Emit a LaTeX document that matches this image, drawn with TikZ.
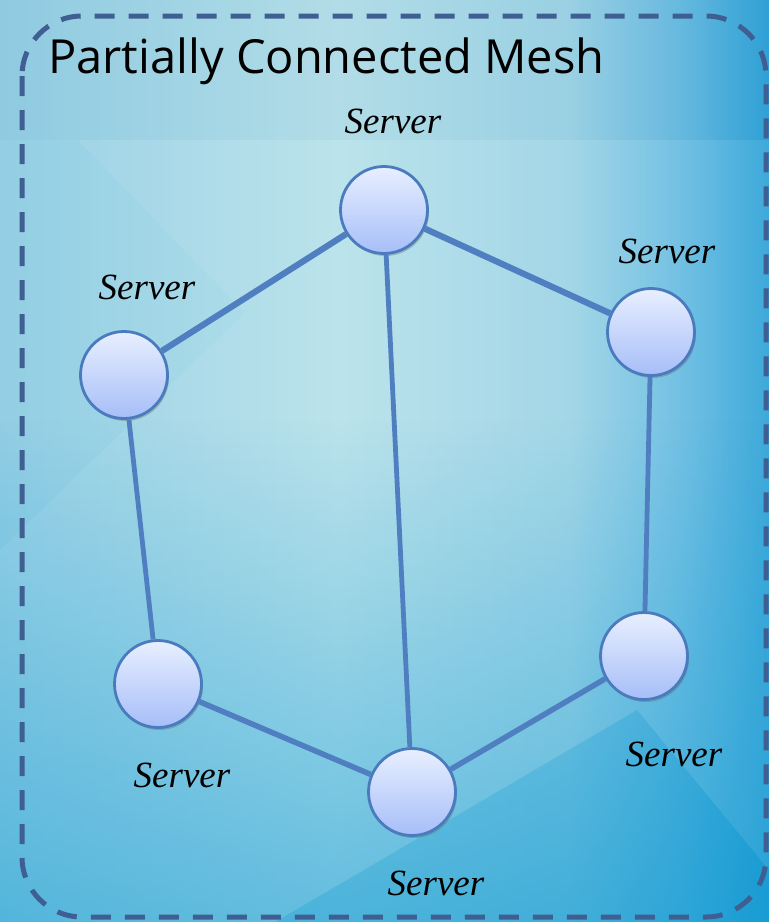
\documentclass[tikz,border=0pt]{standalone}
\usepackage{fontspec}
\setmainfont{Liberation Serif}
\newfontfamily\titlefont{Open Sans}
\usetikzlibrary{shadows,fadings}
\definecolor{bgA}{HTML}{92CEE4}
\definecolor{bgB}{HTML}{B6E1EA}
\definecolor{bgC}{HTML}{9DD4E6}
\definecolor{bgD}{HTML}{6ABDE2}
\definecolor{bgE}{HTML}{2FA3D8}
\definecolor{deepblue}{HTML}{0A98D2}
\definecolor{edgec}{HTML}{4F7FC1}
\definecolor{nodetop}{HTML}{E8EFFF}
\definecolor{nodebot}{HTML}{A6BEF8}
\definecolor{nodeline}{HTML}{4A7BBE}
\definecolor{framec}{HTML}{3F5F92}
\pgfdeclarehorizontalshading{bgshade}{100bp}{color(0bp)=(bgA); color(25bp)=(bgA); color(47bp)=(bgB); color(62bp)=(bgC); color(69bp)=(bgD); color(75bp)=(bgE); color(100bp)=(bgE)}
\tikzfading[name=fadebottom, top color=transparent!100, bottom color=transparent!0]
\tikzset{
  server/.style={circle, minimum size=87pt, inner sep=0pt, line width=2.8pt, draw=nodeline,
    top color=nodetop, bottom color=nodebot,
    drop shadow={opacity=0.35, shadow xshift=1.5pt, shadow yshift=-2.5pt, fill=black!60}},
  lbl/.style={font=\fontsize{37}{40}\selectfont\itshape, anchor=base, inner sep=0pt},
  link/.style={draw=edgec, line width=5.5pt},
  thinlink/.style={draw=edgec, line width=4.8pt},
  thicklink/.style={draw=edgec, line width=6.2pt}
}
\begin{document}
\begin{tikzpicture}[x=1pt,y=-1pt]
\useasboundingbox (0,0) rectangle (769,922);
% background
\shade[shading=bgshade] (0,0) rectangle (769,922);
\fill[deepblue, opacity=0.55, path fading=fadebottom] (0,420) rectangle (769,922);
\fill[white, opacity=0.07] (78,140) -- (769,140) -- (769,870) -- (637,710) -- (275,922) -- (0,922) -- (0,550) -- (245,313) -- cycle;
\fill[deepblue, opacity=0.15] (637,710) -- (769,870) -- (769,922) -- (275,922) -- cycle;
\fill[framec, opacity=0.03] (0,0) rectangle (769,140);
% frame
\draw[framec, line width=5pt, dash pattern=on 20pt off 14pt, rounded corners=60pt] (22,16) rectangle (766,917);
% title
\node[anchor=base west, inner sep=0pt, font=\titlefont\fontsize{47}{50}\selectfont] (title) at (48,73) {Partially Connected Mesh};
% servers
\node[server] (t) at (384,210) {};
\node[server] (rt) at (651,332) {};
\node[server] (l) at (124,375) {};
\node[server] (bl) at (158,684) {};
\node[server] (b) at (412,792) {};
\node[server] (br) at (644,656) {};
% links
\draw[thicklink] (t) -- (l);
\draw[thicklink] (t) -- (rt);
\draw[thinlink] (t) -- (b);
\draw[thinlink] (l) -- (bl);
\draw[thinlink] (rt) -- (br);
\draw[link] (bl) -- (b);
\draw[link] (b) -- (br);
% labels
\node[lbl] (lt) at (393,133) {Server};
\node[lbl] (lrt) at (667,263) {Server};
\node[lbl] (ll) at (147,299) {Server};
\node[lbl] (lbl) at (182,787) {Server};
\node[lbl] (lbr) at (674,766) {Server};
\node[lbl] (lb) at (436,895) {Server};
\end{tikzpicture}
\end{document}
